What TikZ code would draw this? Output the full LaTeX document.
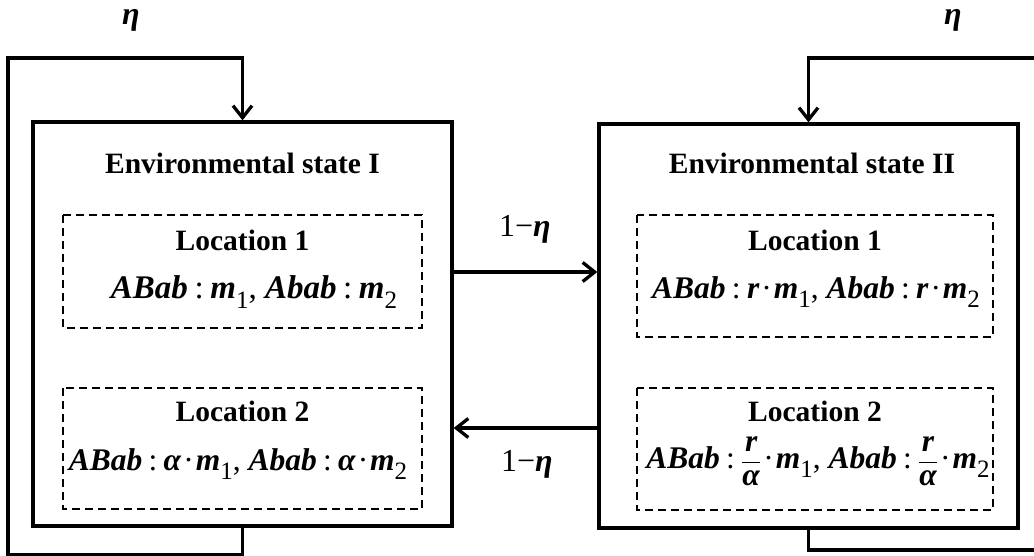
\documentclass[tikz,border=0pt]{standalone}
\usepackage{fontspec}
\setmainfont{Liberation Serif}
\usetikzlibrary{arrows.meta}
\newcommand{\bi}[1]{\textbf{\textit{#1}}}
\newcommand{\sbs}[1]{\raisebox{-0.3em}{\fontsize{25}{25}\selectfont #1}}
\newcommand{\cln}{\hspace{0.2em}:\hspace{0.2em}}
\newcommand{\cd}{\hspace{0.06em}·\hspace{0.06em}}
\newcommand{\fr}[2]{$\displaystyle\frac{\mbox{\bi{#1}}}{\mbox{\bi{#2}}}$}
\begin{document}
\begin{tikzpicture}[x=1pt,y=-1pt,
  every node/.style={font=\fontsize{33}{36}\selectfont, inner sep=0pt},
  small/.style={font=\fontsize{31.5}{34}\selectfont},
  bold/.style={font=\fontsize{29.5}{32}\selectfont\bfseries},
  lab/.style={font=\fontsize{32}{34}\selectfont},
  statebox/.style={draw, line width=3.3pt, minimum width=419pt, minimum height=404pt},
  locbox/.style={draw, line width=2pt, dash pattern=on 8pt off 5pt},
  arr/.style={line width=3.3pt, -{Straight Barb[length=12pt,width=19pt,line width=3.3pt]}},
  ln/.style={line width=3.3pt}]
\useasboundingbox (0,0) rectangle (1034,556);
% state boxes
\node[statebox] (s1) at (242.5,324) {};
\node[statebox] (s2) at (808.5,326) {};
% location boxes
\draw[locbox] (63,215) rectangle (422,328);
\draw[locbox] (63,388) rectangle (422,509);
\draw[locbox] (637,215) rectangle (993,337);
\draw[locbox] (637,388) rectangle (993,510);
% texts
\node[bold] (t1) at (242.5,163) {Environmental state I};
\node[bold] (t2) at (812,163) {Environmental state II};
\node[bold] (l11) at (242.5,240) {Location 1};
\node[bold] (l12) at (242.5,411) {Location 2};
\node[bold] (l21) at (815,240) {Location 1};
\node[bold] (l22) at (815,411) {Location 2};
\node (f11) at (254,292) {\bi{ABab}\cln\bi{m}\sbs{1}, \bi{Abab}\cln\bi{m}\sbs{2}};
\node[small] (f12) at (238,464) {\bi{ABab}\cln\bi{α}\cd\bi{m}\sbs{1}, \bi{Abab}\cln\bi{α}\cd\bi{m}\sbs{2}};
\node[small] (f21) at (816,292) {\bi{ABab}\cln\bi{r}\cd\bi{m}\sbs{1}, \bi{Abab}\cln\bi{r}\cd\bi{m}\sbs{2}};
\node[small] (f22) at (818,461) {\bi{ABab}\cln\fr{r}{α}\cd\bi{m}\sbs{1}, \bi{Abab}\cln\fr{r}{α}\cd\bi{m}\sbs{2}};
% labels
\node[lab] (e1) at (131,20) {\bi{η}};
\node[lab] (e2) at (953,20) {\bi{η}};
\node[lab] (p1) at (525,229) {1−\bi{η}};
\node[lab] (p2) at (527,464) {1−\bi{η}};
% connectors
\draw[arr] (s1.east |- 0,272) -- (s2.west |- 0,272);
\draw[arr] (s2.west |- 0,428) -- (s1.east |- 0,428);
\draw[arr] (s1.south) -- ++(0,27) -| (8,58) -| (s1.north);
\coordinate (rb) at (1036,550);
\coordinate (rt) at (1036,58);
\draw[ln] (s2.south) |- (rb);
\draw[arr] (rt) -| (s2.north);
\end{tikzpicture}
\end{document}
